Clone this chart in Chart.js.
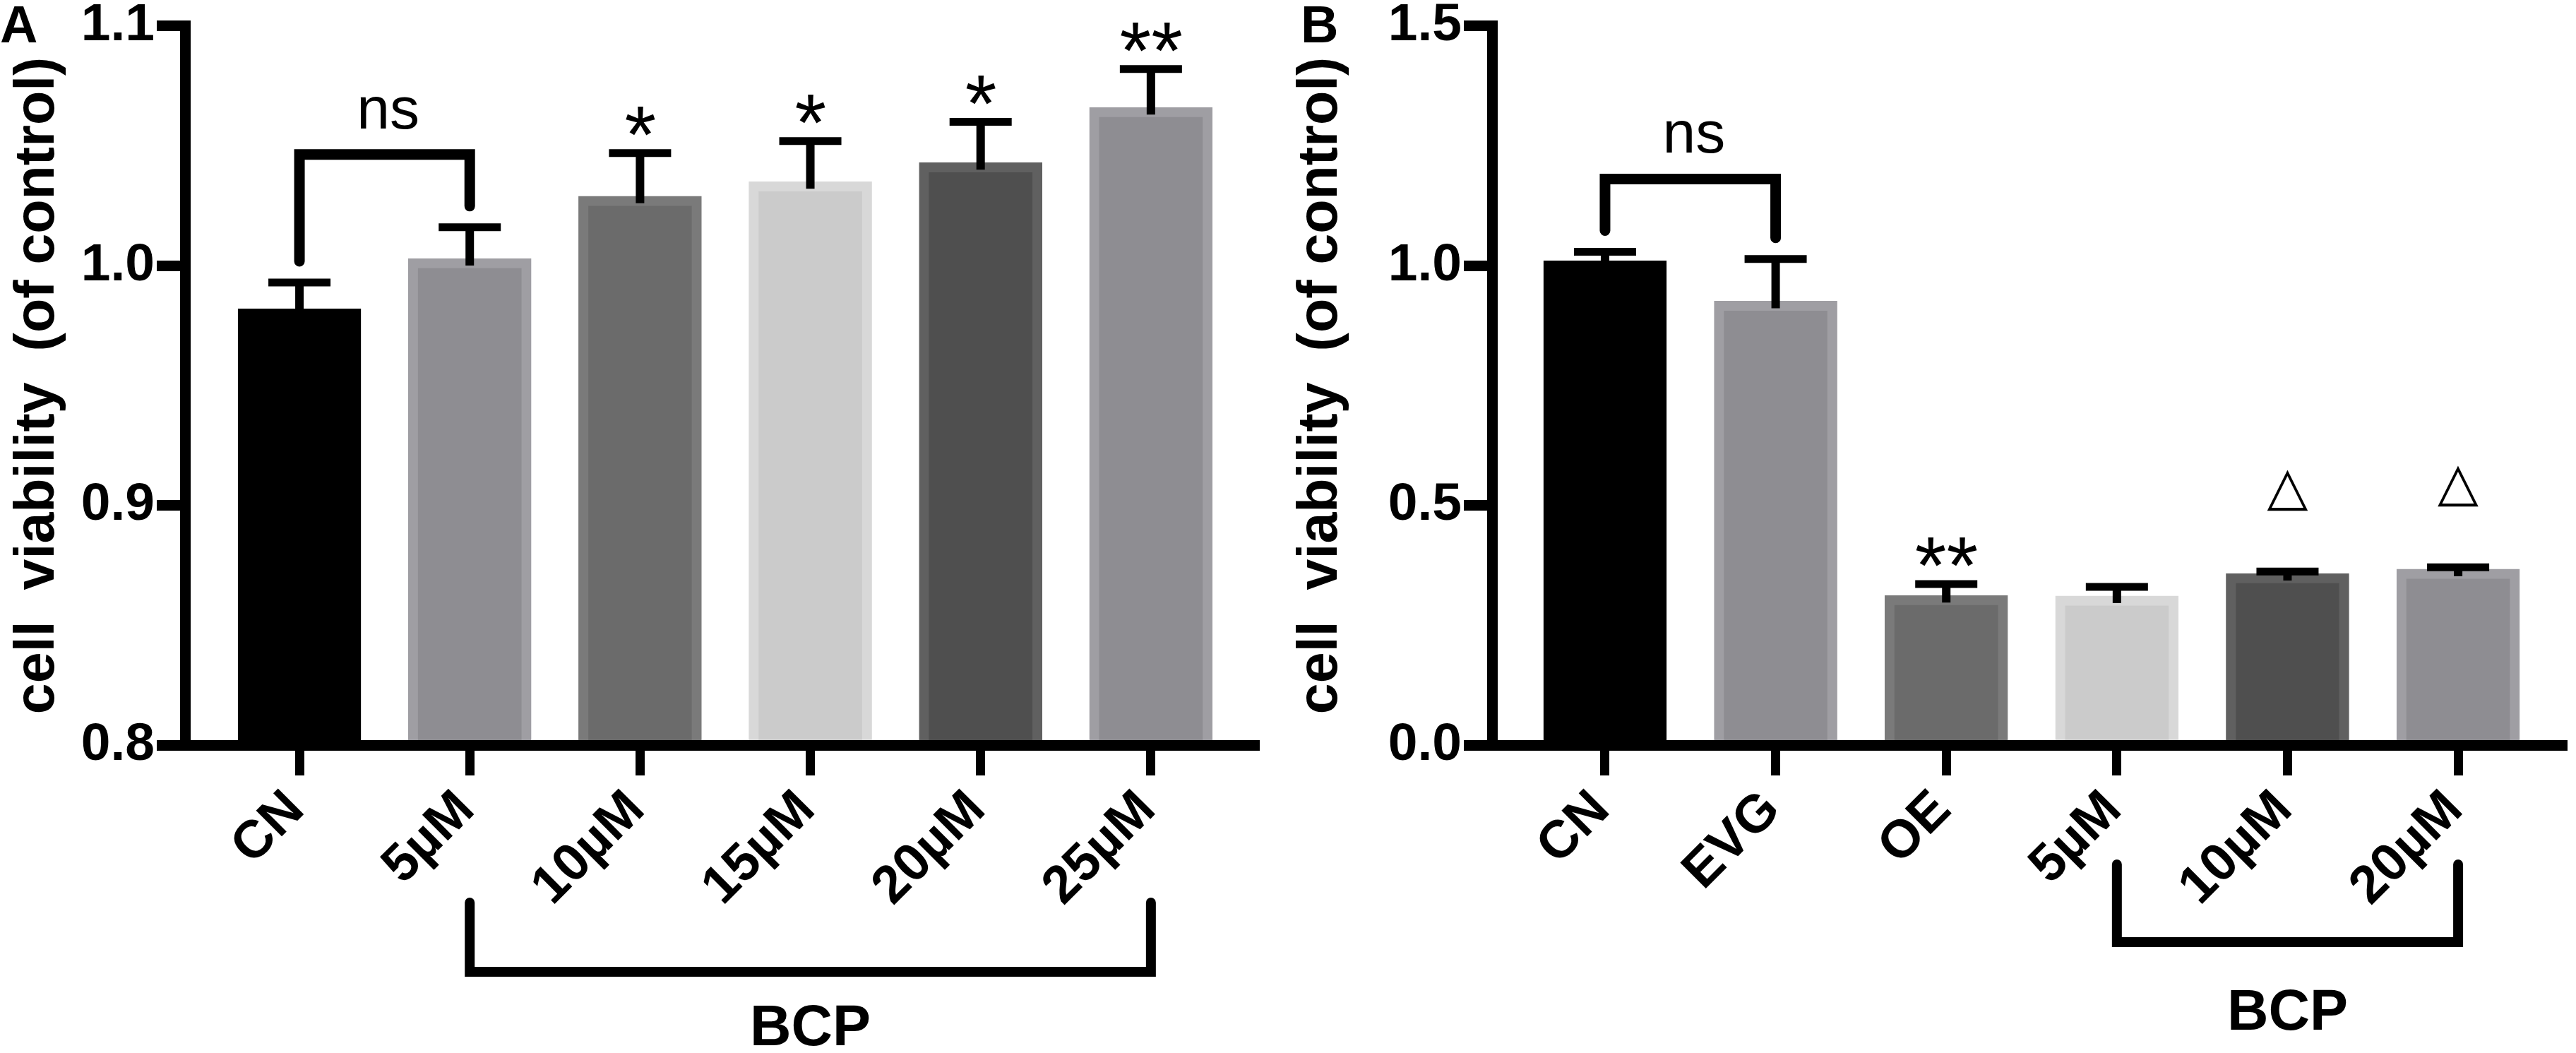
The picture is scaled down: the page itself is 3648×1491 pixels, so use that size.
<!DOCTYPE html>
<html>
<head>
<meta charset="utf-8">
<script src="https://cdn.jsdelivr.net/npm/chart.js@4.4.1/dist/chart.umd.min.js"></script>
<style>
  html, body { margin: 0; padding: 0; background: #fff; }
  body { width: 3648px; height: 1491px; position: relative; overflow: hidden; }
  canvas { position: absolute; top: 0; }
  #chartA { left: 0; }
  #chartB { left: 1815px; }
</style>
</head>
<body>
<canvas id="chartA" width="1815" height="1491"></canvas>
<canvas id="chartB" width="1833" height="1491"></canvas>
<script>
"use strict";

// panel A - BCP dose response
const labelsA = ['CN', '5µM', '10µM', '15µM', '20µM', '25µM'];
const meansA = [0.982, 1.003, 1.029, 1.035, 1.043, 1.066];
const semA = [0.011, 0.013, 0.018, 0.017, 0.017, 0.016];
const marksA = ['', '', '*', '*', '*', '**'];
const yTicksA = [0.8, 0.9, 1.0, 1.1];

// panel B - controls and BCP
const labelsB = ['CN', 'EVG', 'OE', '5µM', '10µM', '20µM'];
const meansB = [1.01, 0.926, 0.312, 0.311, 0.358, 0.367];
const semB = [0.019, 0.088, 0.024, 0.019, 0.004, 0.004];
const marksB = ['', '', '**', '', '△', '△'];
const yTicksB = [0.0, 0.5, 1.0, 1.5];

const yTitle = 'cell  viability  (of control)';
const FONT = "'Liberation Sans', Arial, Helvetica, sans-serif";
const fills = ['#000000', '#8e8d92', '#6b6b6b', '#cbcbcb', '#4f4f4f', '#8e8d92'];
const edges = ['#000000', '#9f9ea3', '#7a7a7a', '#d8d8d8', '#606060', '#9f9ea3'];

function textBottom(ctx, str, x, bottom) {
    const m = ctx.measureText(str);
    ctx.fillText(str, x + (m.actualBoundingBoxLeft - m.actualBoundingBoxRight) / 2, bottom - m.actualBoundingBoxDescent);
}

function annotations(p) {
    return {
        id: 'annot' + p.letter,
        afterDraw(chart) {
            const ctx = chart.ctx;
            const xs = chart.scales.x;
            const ys = chart.scales.y;
            const area = chart.chartArea;
            ctx.save();
            ctx.fillStyle = '#000';
            ctx.strokeStyle = '#000';

            // error bars (upper only)
            p.means.forEach((m, i) => {
                const x = xs.getPixelForValue(i);
                const yBar = ys.getPixelForValue(m);
                const yCap = ys.getPixelForValue(m + p.sem[i]);
                ctx.lineCap = 'butt';
                ctx.lineWidth = 12;
                ctx.beginPath();
                ctx.moveTo(x, yBar + 10);
                ctx.lineTo(x, yCap);
                ctx.stroke();
                ctx.lineWidth = 11;
                ctx.beginPath();
                ctx.moveTo(x - 44, yCap);
                ctx.lineTo(x + 44, yCap);
                ctx.stroke();
            });

            // significance marks
            ctx.textAlign = 'center';
            ctx.textBaseline = 'alphabetic';
            p.marks.forEach((mk, i) => {
                if (!mk) return;
                const x = xs.getPixelForValue(i);
                const yCap = ys.getPixelForValue(p.means[i] + p.sem[i]);
                if (mk === '△') {
                    ctx.font = '100px "DejaVu Sans"';
                    const w = ctx.measureText(mk);
                    const size = 100 * 58 / (w.actualBoundingBoxLeft + w.actualBoundingBoxRight);
                    ctx.font = size.toFixed(1) + 'px "DejaVu Sans"';
                    textBottom(ctx, mk, x, yCap - 85);
                } else {
                    ctx.font = '115px ' + FONT;
                    textBottom(ctx, mk, x, yCap - 25);
                }
            });

            // ns bracket between the first two bars
            const x0 = xs.getPixelForValue(0);
            const x1 = xs.getPixelForValue(1);
            const c0 = ys.getPixelForValue(p.means[0] + p.sem[0]);
            const c1 = ys.getPixelForValue(p.means[1] + p.sem[1]);
            const yBr = Math.min(c0, c1) - 103;
            ctx.lineWidth = 15;
            ctx.lineJoin = 'miter';
            ctx.lineCap = 'round';
            ctx.beginPath();
            ctx.moveTo(x0, c0 - 30);
            ctx.lineTo(x0, yBr);
            ctx.lineTo(x1, yBr);
            ctx.lineTo(x1, c1 - 30);
            ctx.stroke();
            ctx.font = '84px ' + FONT;
            ctx.fillText('ns', (x0 + x1) / 2 + 5, yBr - 37);

            // BCP group bracket under the labels
            const g0 = xs.getPixelForValue(p.group[0]);
            const g1 = xs.getPixelForValue(p.group[1]);
            ctx.lineWidth = 14;
            ctx.lineCap = 'round';
            ctx.beginPath();
            ctx.moveTo(g0, p.groupTop);
            ctx.lineTo(g0, p.groupLine);
            ctx.lineTo(g1, p.groupLine);
            ctx.lineTo(g1, p.groupTop);
            ctx.stroke();
            ctx.font = 'bold 81px ' + FONT;
            ctx.fillText('BCP', (g0 + g1) / 2, p.groupText);

            // y axis title
            ctx.save();
            ctx.translate(p.titleX, (area.top + area.bottom) / 2);
            ctx.rotate(-Math.PI / 2);
            ctx.font = 'bold 79px ' + FONT;
            ctx.fillText(yTitle, 0, 0);
            ctx.restore();

            // panel letter
            ctx.textAlign = 'left';
            ctx.font = 'bold 74px ' + FONT;
            ctx.fillText(p.letter, p.letterX, 60);
            ctx.restore();
        }
    };
}

function makeChart(id, p) {
    return new Chart(document.getElementById(id), {
        type: 'bar',
        data: {
            datasets: [{
                data: p.labels.map((_, i) => ({ x: i, y: p.means[i] })),
                backgroundColor: fills,
                borderColor: edges,
                borderWidth: 14,
                borderSkipped: 'start',
                barThickness: 174
            }]
        },
        options: {
            responsive: false,
            animation: false,
            devicePixelRatio: 1,
            layout: { padding: { left: 0, top: 36, right: p.padRight, bottom: 0 } },
            plugins: {
                legend: { display: false },
                tooltip: { enabled: false }
            },
            scales: {
                x: {
                    type: 'linear',
                    bounds: 'data',
                    offset: false,
                    min: p.xMin,
                    max: p.xMax,
                    afterBuildTicks: s => { s.ticks = p.labels.map((_, i) => ({ value: i })); },
                    afterFit: s => { s.height = 436; },
                    border: { display: true, color: '#000', width: 15, z: 1 },
                    grid: { offset: false, drawOnChartArea: false, drawTicks: true, tickLength: 43, tickWidth: 13, tickColor: '#000', z: 1 },
                    ticks: {
                        autoSkip: false,
                        minRotation: 45,
                        maxRotation: 45,
                        padding: 5,
                        labelOffset: -5,
                        color: '#000',
                        font: { family: FONT, size: 75, weight: 'bold', lineHeight: 1.2 },
                        callback: v => p.labels[v]
                    }
                },
                y: {
                    bounds: 'data',
                    min: p.yTicks[0],
                    max: p.yTicks[p.yTicks.length - 1],
                    afterBuildTicks: s => { s.ticks = p.yTicks.map(v => ({ value: v })); },
                    afterFit: s => { s.width = p.axisX; },
                    border: { display: true, color: '#000', width: 15, z: 1 },
                    grid: { drawOnChartArea: false, drawTicks: true, tickLength: 40, tickWidth: 15, tickColor: '#000', z: 1 },
                    ticks: {
                        padding: 3,
                        color: '#000',
                        font: { family: FONT, size: 75, weight: 'bold', lineHeight: 0.9 },
                        callback: v => Number(v).toFixed(1)
                    }
                }
            }
        },
        plugins: [annotations(p)]
    });
}

makeChart('chartA', {
    letter: 'A', letterX: 0,
    labels: labelsA, means: meansA, sem: semA, marks: marksA, yTicks: yTicksA,
    axisX: 262, padRight: 32, xMin: -0.672, xMax: 5.635,
    titleX: 76, group: [1, 5], groupTop: 1278, groupLine: 1376, groupText: 1480
});

makeChart('chartB', {
    letter: 'B', letterX: 27,
    labels: labelsB, means: meansB, sem: semB, marks: marksB, yTicks: yTicksB,
    axisX: 298, padRight: 13, xMin: -0.662, xMax: 5.637,
    titleX: 78, group: [3, 5], groupTop: 1224, groupLine: 1334, groupText: 1458
});
</script>
</body>
</html>
